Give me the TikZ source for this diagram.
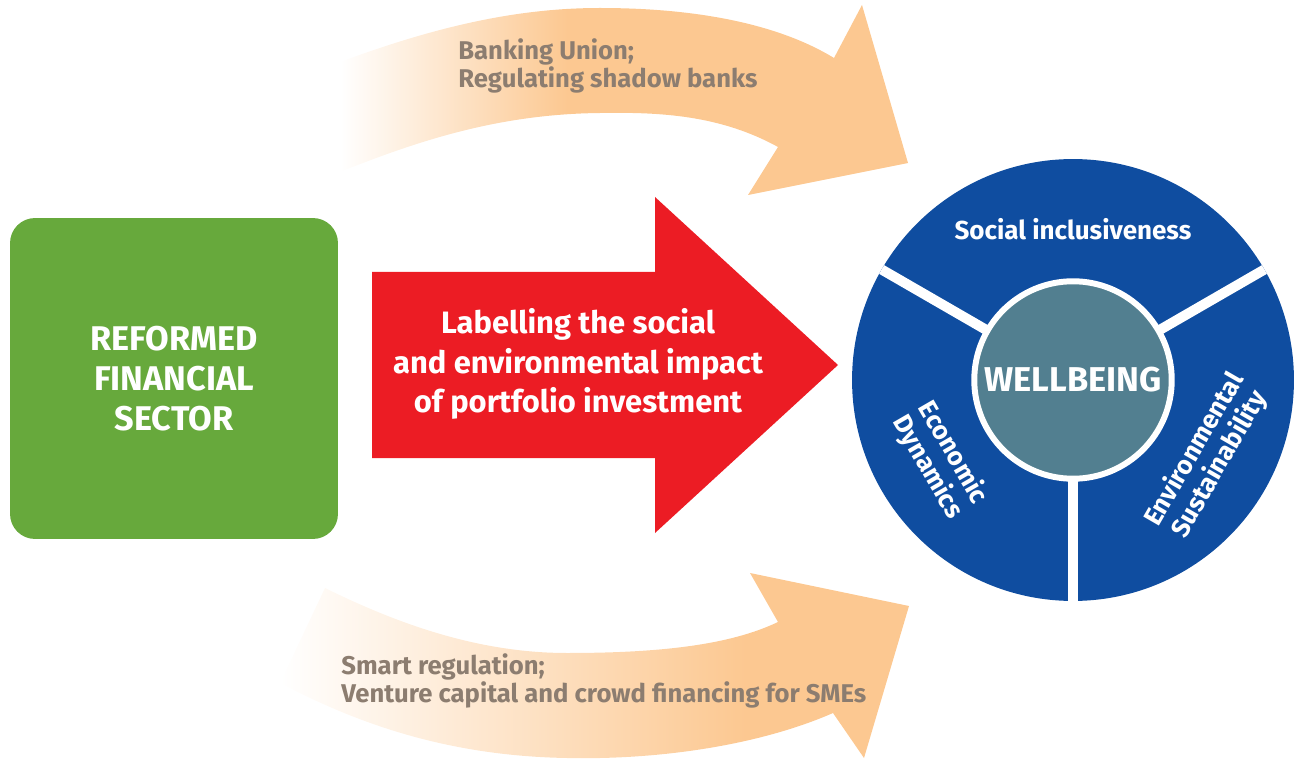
\documentclass[tikz,border=0pt]{standalone}
\usepackage{fontspec}
\setmainfont{Fira Sans}
\usetikzlibrary{positioning}
\tikzset{>=latex}

\definecolor{leafgreen}{HTML}{67A93C}
\definecolor{signalred}{HTML}{EC1C24}
\definecolor{peach}{HTML}{FCC891}
\definecolor{navyblue}{HTML}{0F4DA0}
\definecolor{steelteal}{HTML}{527F90}
\definecolor{mudgray}{HTML}{8C7D70}

% fading of the two curved arrows (white on the left)
\pgfdeclarehorizontalshading{topfade}{100bp}{color(0bp)=(white); color(25bp)=(white); color(45bp)=(peach); color(100bp)=(peach)}
\pgfdeclarehorizontalshading{lowfade}{100bp}{color(0bp)=(white); color(25bp)=(white); color(62bp)=(peach); color(100bp)=(peach)}

\tikzset{
    boxtext/.style={text=white, align=center, inner sep=0pt, font=\bfseries\fontsize{19.5}{22.8}\selectfont},
    arrowtext/.style={text=white, align=center, inner sep=0pt, font=\bfseries\fontsize{17.6}{22.5}\selectfont},
    notetext/.style={text=mudgray, align=left, inner sep=0pt, anchor=west, font=\bfseries\fontsize{14.6}{16}\selectfont},
    wheeltext/.style={text=white, align=center, inner sep=0pt, font=\bfseries\fontsize{14.8}{16.5}\selectfont},
}

\begin{document}
\begin{tikzpicture}[x=0.02cm, y=-0.02cm]
    \useasboundingbox (0,0) rectangle (1295,760);

    % upper curved arrow
    \shade[shading=topfade] (340,62) .. controls (440,25) and (520,8) .. (600,8)
        .. controls (700,8) and (780,25) .. (834,58)
        -- (862,5) -- (908,163) -- (748,195) -- (778,147)
        .. controls (720,115) and (660,112) .. (600,113)
        .. controls (500,114) and (420,140) .. (340,172) -- cycle;

    % lower curved arrow
    \shade[shading=lowfade] (325,588) .. controls (400,625) and (480,653) .. (567,653)
        .. controls (660,653) and (730,645) .. (778,622)
        -- (750,573) -- (909,606) -- (864,758) -- (833,713)
        .. controls (760,745) and (660,760) .. (567,758)
        .. controls (450,756) and (360,725) .. (280,683) -- cycle;

    \node[notetext] (topnote) at (458,66) {Banking Union;\\Regulating shadow banks};
    \node[notetext] (lownote) at (341,681) {Smart regulation;\\Venture capital and crowd financing for SMEs};

    % green box
    \node[fill=leafgreen, rounded corners=0.5cm, minimum width=6.56cm, minimum height=6.42cm, inner sep=0pt] (reform) at (174,378.5) {};
    \node[boxtext] (reformtext) at (reform.center) {REFORMED\\FINANCIAL\\SECTOR};

    % red arrow
    \fill[signalred] (372,272) -- (655,272) -- (655,197) -- (838,365) -- (655,533) -- (655,458) -- (372,458) -- cycle;
    \node[arrowtext] (label) at (578,364) {Labelling the social\\and environmental impact\\of portfolio investment};

    % wellbeing wheel
    \coordinate (core) at (1073,380);
    \fill[navyblue] (core) circle [radius=4.42cm];
    \foreach \a in {30,150,270}
    {
        \draw[white, line width=5.7pt] (core) -- ++(\a:4.42cm);
    }
    \node[circle, fill=steelteal, draw=white, line width=3.4pt, minimum size=3.95cm, inner sep=0pt,
          text=white, font=\bfseries\fontsize{19.6}{22}\selectfont] (hub) at (core) {WELLBEING};

    \node[wheeltext] (social) at (1073,229) {Social inclusiveness};
    \node[wheeltext, rotate=-60] (econ) at (940,460) {Economic\\Dynamics};
    \node[wheeltext, rotate=60] (envir) at (1207,457) {Environmental\\Sustainability};

\end{tikzpicture}
\end{document}
